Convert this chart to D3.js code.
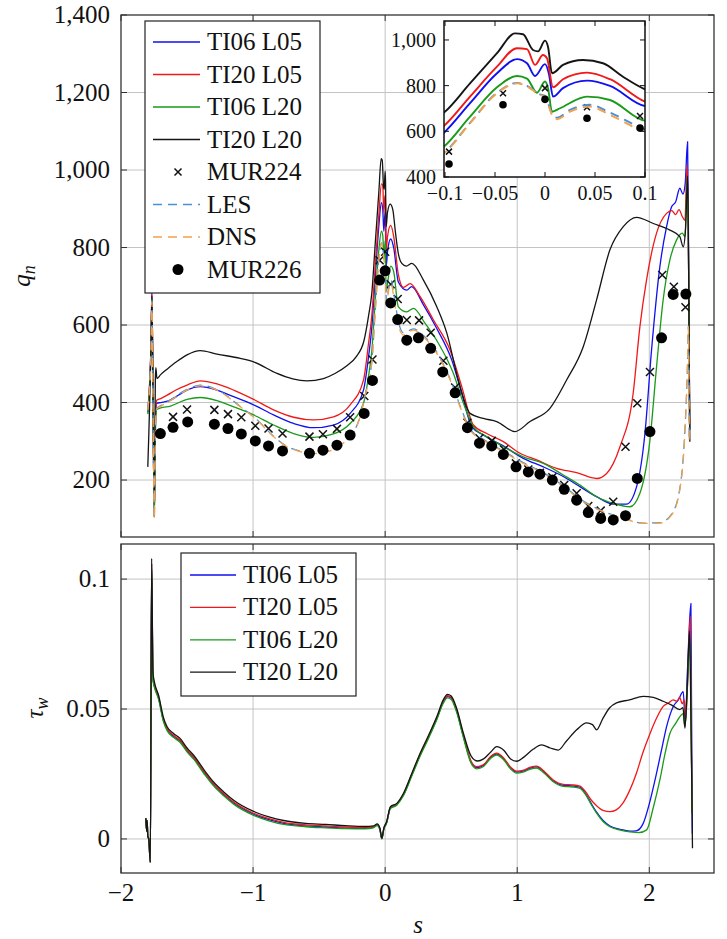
<!DOCTYPE html>
<html>
<head>
<meta charset="utf-8">
<script src="https://cdn.jsdelivr.net/npm/d3@7"></script>
<style>
body { margin: 0; background: #fff; }
</style>
</head>
<body>
<script>
// ---- heat flux q_n, [s, q] ----
const qTI06L05 = [[-1.797,375],[-1.772,560],[-1.766,690],[-1.757,380],[-1.748,105],[-1.738,360],[-1.730,398],[-1.70,400],[-1.626,406],[-1.56,420],[-1.5,432],[-1.4,441],[-1.273,432],[-1.147,415],[-0.996,394],[-0.845,368],[-0.693,346],[-0.542,335],[-0.391,342],[-0.265,372],[-0.164,432],[-0.125,520],[-0.101,594],[-0.075,723],[-0.048,854],[-0.028,916],[-0.018,898],[-0.010,842],[0.0,894],[0.004,850],[0.008,752],[0.018,789],[0.042,822],[0.065,799],[0.1,711],[0.164,690],[0.2,699],[0.29,652],[0.391,591],[0.504,510],[0.58,424],[0.656,338],[0.744,316],[0.895,288],[1.046,256],[1.198,234],[1.349,209],[1.475,183],[1.601,157],[1.727,138],[1.828,138],[1.904,183],[1.967,320],[2.017,535],[2.08,750],[2.131,854],[2.169,905],[2.2,918],[2.231,953],[2.255,938],[2.272,965],[2.29,1073],[2.298,760],[2.306,330]];
const qTI20L05 = [[-1.797,380],[-1.772,560],[-1.766,680],[-1.757,380],[-1.748,105],[-1.738,370],[-1.730,406],[-1.70,410],[-1.651,419],[-1.58,433],[-1.5,445],[-1.4,456],[-1.273,448],[-1.147,432],[-0.996,408],[-0.845,381],[-0.693,362],[-0.542,355],[-0.391,363],[-0.265,394],[-0.164,458],[-0.125,555],[-0.101,624],[-0.075,752],[-0.048,883],[-0.028,964],[-0.018,960],[-0.010,891],[-0.002,934],[0.002,920],[0.008,793],[0.018,828],[0.042,857],[0.065,828],[0.1,730],[0.139,697],[0.189,707],[0.265,673],[0.366,613],[0.492,535],[0.58,441],[0.668,342],[0.769,320],[0.895,299],[1.021,269],[1.147,252],[1.298,230],[1.45,219],[1.601,204],[1.677,217],[1.778,286],[1.878,424],[1.929,596],[1.979,716],[2.055,837],[2.131,888],[2.17,895],[2.2,885],[2.225,898],[2.25,880],[2.27,870],[2.286,1013],[2.298,740],[2.306,330]];
const qTI06L20 = [[-1.797,370],[-1.772,550],[-1.766,670],[-1.757,370],[-1.748,105],[-1.738,350],[-1.730,382],[-1.70,386],[-1.626,391],[-1.5,408],[-1.4,413],[-1.273,405],[-1.147,389],[-0.996,368],[-0.845,342],[-0.693,320],[-0.542,310],[-0.391,319],[-0.265,346],[-0.164,398],[-0.125,470],[-0.101,533],[-0.075,664],[-0.048,793],[-0.028,842],[-0.018,831],[-0.008,769],[0.0,818],[0.003,790],[0.007,686],[0.015,701],[0.042,752],[0.065,737],[0.1,647],[0.164,634],[0.214,643],[0.303,604],[0.403,553],[0.517,475],[0.593,398],[0.668,338],[0.769,312],[0.895,286],[1.046,260],[1.198,243],[1.349,213],[1.475,187],[1.601,157],[1.727,140],[1.853,131],[1.929,166],[2.005,303],[2.055,492],[2.105,665],[2.156,768],[2.206,819],[2.25,837],[2.27,828],[2.288,983],[2.298,740],[2.306,330]];
const qTI20L20 = [[-1.797,234],[-1.772,560],[-1.766,675],[-1.757,400],[-1.748,160],[-1.740,460],[-1.736,490],[-1.728,462],[-1.70,472],[-1.651,486],[-1.58,505],[-1.5,523],[-1.4,534],[-1.273,525],[-1.097,514],[-0.996,505],[-0.819,475],[-0.70,461],[-0.592,456],[-0.467,462],[-0.38,475],[-0.29,495],[-0.22,518],[-0.16,560],[-0.125,625],[-0.101,682],[-0.075,810],[-0.048,942],[-0.030,1029],[-0.022,1025],[-0.012,956],[-0.007,950],[0.0,997],[0.003,970],[0.007,854],[0.01,860],[0.018,891],[0.038,912],[0.058,898],[0.078,839],[0.1,784],[0.126,759],[0.16,752],[0.202,759],[0.29,716],[0.391,647],[0.467,579],[0.554,458],[0.643,372],[0.744,359],[0.845,351],[0.983,325],[1.097,351],[1.248,385],[1.374,458],[1.5,544],[1.601,665],[1.702,794],[1.803,854],[1.904,878],[2.03,862],[2.156,845],[2.231,828],[2.257,802],[2.275,850],[2.29,985],[2.298,740],[2.307,299]];
const qLES = [[-1.797,382],[-1.772,545],[-1.766,665],[-1.757,372],[-1.748,102],[-1.738,352],[-1.730,385],[-1.70,392],[-1.626,407],[-1.5,434],[-1.4,445],[-1.273,433],[-1.097,390],[-0.971,356],[-0.845,313],[-0.744,287],[-0.668,277],[-0.56,269],[-0.45,273],[-0.33,293],[-0.25,319],[-0.2,353],[-0.15,421],[-0.101,506],[-0.075,637],[-0.048,769],[-0.028,812],[-0.018,799],[-0.005,762],[0.0,755],[0.007,678],[0.012,660],[0.025,694],[0.045,716],[0.065,682],[0.1,609],[0.139,580],[0.214,590],[0.29,573],[0.391,530],[0.492,461],[0.567,392],[0.643,332],[0.744,305],[0.895,275],[1.046,245],[1.198,219],[1.349,185],[1.5,146],[1.652,119],[1.803,102],[1.954,89],[2.08,90],[2.169,112],[2.231,178],[2.269,325],[2.289,496],[2.296,598],[2.302,300]];
const qDNS = [[-1.797,380],[-1.772,540],[-1.766,660],[-1.757,370],[-1.748,100],[-1.738,350],[-1.730,383],[-1.70,390],[-1.626,405],[-1.5,432],[-1.4,443],[-1.273,432],[-1.097,389],[-0.971,355],[-0.845,312],[-0.744,286],[-0.668,276],[-0.56,268],[-0.45,272],[-0.33,292],[-0.25,318],[-0.2,352],[-0.15,420],[-0.101,504],[-0.075,635],[-0.048,767],[-0.028,810],[-0.018,797],[-0.005,759],[0.0,752],[0.007,672],[0.012,653],[0.025,686],[0.045,708],[0.065,672],[0.1,599],[0.139,574],[0.214,587],[0.29,570],[0.391,527],[0.492,458],[0.567,389],[0.643,329],[0.744,303],[0.895,273],[1.046,243],[1.198,217],[1.349,183],[1.5,144],[1.652,118],[1.803,101],[1.954,88],[2.08,89],[2.169,110],[2.231,174],[2.269,320],[2.289,492],[2.296,596],[2.302,300]];
const mur224 = [[-1.606,363],[-1.50,382],[-1.293,381],[-1.19,370],[-1.089,362],[-0.983,340],[-0.883,333],[-0.777,320],[-0.573,312],[-0.471,318],[-0.365,332],[-0.265,362],[-0.158,417],[-0.096,511],[-0.042,767],[0.0,789],[0.042,705],[0.095,667],[0.164,613],[0.257,612],[0.345,580],[0.441,508],[0.53,439],[0.623,348],[0.714,308],[0.807,301],[0.9,279],[0.99,243],[1.084,227],[1.172,219],[1.266,207],[1.356,187],[1.45,166],[1.538,133],[1.632,121],[1.727,144],[1.82,286],[1.909,398],[2.005,479],[2.098,729],[2.186,699],[2.274,646]];
const mur226 = [[-1.702,320],[-1.606,336],[-1.495,350],[-1.293,344],[-1.19,333],[-1.089,319],[-0.983,301],[-0.883,288],[-0.777,275],[-0.573,269],[-0.471,277],[-0.365,290],[-0.265,316],[-0.159,372],[-0.096,457],[-0.042,716],[0.0,740],[0.042,657],[0.095,614],[0.164,561],[0.252,567],[0.345,540],[0.436,479],[0.53,425],[0.623,335],[0.714,295],[0.807,288],[0.895,266],[0.991,234],[1.084,221],[1.172,215],[1.266,200],[1.356,176],[1.45,148],[1.538,116],[1.632,101],[1.727,97],[1.82,108],[1.909,204],[2.005,325],[2.093,567],[2.181,679],[2.277,680]];

// ---- wall shear tau_w, [s, tau] ----
const tauTI06L05 = [[-1.812,0.008],[-1.806,0.003],[-1.802,0.007],[-1.797,0.001],[-1.79,0.0],[-1.778,-0.009],[-1.768,0.106],[-1.758,0.0615],[-1.745,0.0585],[-1.715,0.0541],[-1.68,0.0458],[-1.651,0.0421],[-1.6,0.0394],[-1.551,0.0375],[-1.5,0.0339],[-1.45,0.0311],[-1.37,0.0254],[-1.299,0.0208],[-1.22,0.0169],[-1.147,0.0138],[-0.996,0.0095],[-0.88,0.0074],[-0.769,0.0060],[-0.6,0.0050],[-0.45,0.0046],[-0.3,0.0042],[-0.15,0.0041],[-0.09,0.0045],[-0.06,0.0053],[-0.04,0.0038],[-0.025,0.0001],[-0.01,0.0039],[0.01,0.0061],[0.04,0.0120],[0.088,0.0133],[0.139,0.0170],[0.2,0.0244],[0.265,0.0323],[0.33,0.0393],[0.391,0.0463],[0.44,0.0527],[0.471,0.0548],[0.5,0.0542],[0.54,0.0495],[0.593,0.0394],[0.65,0.0297],[0.693,0.0275],[0.745,0.0283],[0.8,0.0315],[0.845,0.0327],[0.9,0.0307],[0.95,0.0273],[0.996,0.0257],[1.05,0.0262],[1.1,0.0273],[1.147,0.0277],[1.2,0.0259],[1.27,0.0225],[1.349,0.0206],[1.42,0.0204],[1.475,0.0199],[1.52,0.0173],[1.56,0.0137],[1.601,0.0103],[1.65,0.0071],[1.702,0.0050],[1.78,0.0037],[1.853,0.0030],[1.9,0.0031],[1.954,0.0060],[2.0,0.0135],[2.055,0.0253],[2.1,0.0360],[2.131,0.0432],[2.181,0.0509],[2.22,0.0535],[2.257,0.0567],[2.272,0.0450],[2.29,0.066],[2.315,0.0906],[2.320,0.050],[2.326,0.002]];
const tauTI20L05 = [[-1.812,0.008],[-1.806,0.003],[-1.802,0.007],[-1.797,0.001],[-1.79,0.0],[-1.778,-0.009],[-1.768,0.106],[-1.758,0.062],[-1.745,0.059],[-1.715,0.0545],[-1.68,0.0462],[-1.651,0.0425],[-1.6,0.0398],[-1.551,0.0379],[-1.5,0.0343],[-1.45,0.0315],[-1.37,0.0258],[-1.299,0.0212],[-1.22,0.0173],[-1.147,0.0142],[-0.996,0.0099],[-0.88,0.0078],[-0.769,0.0064],[-0.6,0.0054],[-0.45,0.0050],[-0.3,0.0046],[-0.15,0.0044],[-0.09,0.0047],[-0.06,0.0055],[-0.04,0.0040],[-0.025,0.0002],[-0.01,0.0040],[0.01,0.0062],[0.04,0.0121],[0.088,0.0134],[0.139,0.0172],[0.2,0.0246],[0.265,0.0326],[0.33,0.0396],[0.391,0.0466],[0.44,0.0530],[0.471,0.0551],[0.5,0.0545],[0.54,0.0498],[0.593,0.0398],[0.65,0.0300],[0.693,0.0278],[0.745,0.0286],[0.8,0.0318],[0.845,0.0330],[0.9,0.0310],[0.95,0.0276],[0.996,0.0261],[1.05,0.0265],[1.1,0.0276],[1.147,0.0280],[1.2,0.0262],[1.27,0.0228],[1.349,0.0210],[1.42,0.0208],[1.475,0.0203],[1.52,0.0180],[1.56,0.0150],[1.601,0.0128],[1.65,0.0110],[1.702,0.0105],[1.75,0.0112],[1.803,0.0140],[1.85,0.0185],[1.904,0.0255],[1.95,0.0330],[2.005,0.0405],[2.06,0.0470],[2.105,0.0510],[2.15,0.0525],[2.181,0.0535],[2.21,0.0530],[2.23,0.0545],[2.25,0.0520],[2.265,0.0535],[2.275,0.0455],[2.29,0.060],[2.31,0.0855],[2.316,0.050],[2.324,0.010]];
const tauTI06L20 = [[-1.812,0.008],[-1.806,0.003],[-1.802,0.007],[-1.797,0.001],[-1.79,0.0],[-1.778,-0.009],[-1.768,0.104],[-1.758,0.061],[-1.745,0.058],[-1.715,0.0537],[-1.68,0.0454],[-1.651,0.0417],[-1.6,0.0390],[-1.551,0.0371],[-1.5,0.0335],[-1.45,0.0307],[-1.37,0.0250],[-1.299,0.0204],[-1.22,0.0165],[-1.147,0.0134],[-0.996,0.0091],[-0.88,0.0070],[-0.769,0.0056],[-0.6,0.0047],[-0.45,0.0043],[-0.3,0.0040],[-0.15,0.0039],[-0.09,0.0043],[-0.06,0.0051],[-0.04,0.0036],[-0.025,0.0000],[-0.01,0.0037],[0.01,0.0059],[0.04,0.0117],[0.088,0.0130],[0.139,0.0167],[0.2,0.0240],[0.265,0.0319],[0.33,0.0389],[0.391,0.0459],[0.44,0.0522],[0.471,0.0543],[0.5,0.0537],[0.54,0.0490],[0.593,0.0389],[0.65,0.0292],[0.693,0.0270],[0.745,0.0279],[0.8,0.0311],[0.845,0.0323],[0.9,0.0303],[0.95,0.0269],[0.996,0.0253],[1.05,0.0258],[1.1,0.0269],[1.147,0.0273],[1.2,0.0255],[1.27,0.0221],[1.349,0.0202],[1.42,0.0200],[1.475,0.0195],[1.52,0.0169],[1.56,0.0133],[1.601,0.0099],[1.65,0.0067],[1.702,0.0047],[1.78,0.0034],[1.853,0.0027],[1.92,0.0024],[1.98,0.0035],[2.03,0.0120],[2.08,0.0227],[2.12,0.0330],[2.156,0.0406],[2.2,0.0445],[2.231,0.0470],[2.255,0.0482],[2.27,0.0433],[2.29,0.060],[2.308,0.078],[2.316,0.050],[2.324,0.010]];
const tauTI20L20 = [[-1.812,0.008],[-1.806,0.003],[-1.802,0.007],[-1.797,0.001],[-1.79,0.0],[-1.778,-0.009],[-1.768,0.108],[-1.758,0.064],[-1.745,0.060],[-1.715,0.0552],[-1.68,0.047],[-1.651,0.0432],[-1.6,0.0405],[-1.551,0.0386],[-1.5,0.035],[-1.45,0.0322],[-1.37,0.0265],[-1.299,0.0219],[-1.22,0.018],[-1.147,0.0149],[-0.996,0.0106],[-0.88,0.0085],[-0.769,0.0071],[-0.6,0.0060],[-0.45,0.0056],[-0.3,0.0051],[-0.15,0.0048],[-0.09,0.0050],[-0.06,0.0058],[-0.04,0.0042],[-0.025,0.0003],[-0.01,0.0042],[0.01,0.0065],[0.04,0.0124],[0.088,0.0137],[0.139,0.0176],[0.2,0.025],[0.265,0.033],[0.33,0.040],[0.391,0.047],[0.44,0.0535],[0.471,0.0556],[0.5,0.055],[0.54,0.0505],[0.593,0.0406],[0.65,0.0320],[0.7,0.0300],[0.745,0.0308],[0.8,0.0335],[0.845,0.0355],[0.9,0.0340],[0.95,0.0308],[0.996,0.0299],[1.05,0.0315],[1.12,0.0345],[1.185,0.0362],[1.25,0.0350],[1.311,0.0342],[1.37,0.0375],[1.45,0.0420],[1.526,0.0447],[1.57,0.0440],[1.601,0.0420],[1.65,0.0465],[1.70,0.0505],[1.752,0.0524],[1.85,0.0535],[1.954,0.0549],[2.03,0.0545],[2.105,0.053],[2.17,0.0515],[2.231,0.0498],[2.255,0.0505],[2.27,0.0426],[2.285,0.0560],[2.305,0.080],[2.312,0.060],[2.322,0.020],[2.327,-0.0036]];

const sTicks = [-2, -1, 0, 1, 2];
const qTicks = [200, 400, 600, 800, 1000, 1200, 1400];
const tauTicks = [0, 0.05, 0.1];
const insetSTicks = [-0.1, -0.05, 0, 0.05, 0.1];
const insetQTicks = [400, 600, 800, 1000];

const names = ["TI06 L05", "TI20 L05", "TI06 L20", "TI20 L20"];
const colors = ["#1010f0", "#f01818", "#1a9a1a", "#151515"];
const lesColor = "#4a90d6", dnsColor = "#f3a14a";

// pick the first serif face that is really installed
function pickSerif() {
  const cands = ["Liberation Serif", "Tinos", "Noto Serif", "DejaVu Serif", "FreeSerif",
                 "Nimbus Roman", "Nimbus Roman No9 L", "Times New Roman", "Times", "Georgia"];
  const ctx = document.createElement("canvas").getContext("2d");
  const probe = "TI06 L05 MUR224 1,400 abcdefghij";
  ctx.font = "40px monospace"; const wm = ctx.measureText(probe).width;
  ctx.font = "40px sans-serif"; const ws = ctx.measureText(probe).width;
  for (const c of cands) {
    ctx.font = `40px "${c}", monospace`; const a = ctx.measureText(probe).width;
    ctx.font = `40px "${c}", sans-serif`; const b = ctx.measureText(probe).width;
    if (a !== wm && b !== ws) return `"${c}", serif`;
  }
  return "serif";
}
const serif = pickSerif();

const svg = d3.select("body").append("svg").attr("width", 727).attr("height", 939)
  .attr("font-family", serif);

const x = d3.scaleLinear().domain([-2, 2.49]).range([121, 714]);
const yq = d3.scaleLinear().domain([53, 1400]).range([537, 15]);
const yt = d3.scaleLinear().domain([-0.0131, 0.1135]).range([873, 544]);
const xi = d3.scaleLinear().domain([-0.101, 0.1]).range([444, 645]);
const yi = d3.scaleLinear().domain([400, 1083]).range([177, 21]);

function clip(id, xs, ys) {
  svg.append("clipPath").attr("id", id).append("rect")
    .attr("x", xs.range()[0]).attr("y", ys.range()[1])
    .attr("width", xs.range()[1] - xs.range()[0]).attr("height", ys.range()[0] - ys.range()[1]);
}

function grid(xs, ys, xt, yt_) {
  const g = svg.append("g");
  g.selectAll(".gx").data(xt.filter(d => xs(d) > xs.range()[0] + 1)).enter().append("line")
    .attr("x1", d => xs(d)).attr("x2", d => xs(d)).attr("y1", ys.range()[0]).attr("y2", ys.range()[1])
    .attr("stroke", "#c4c4c4").attr("stroke-width", 1);
  g.selectAll(".gy").data(yt_.filter(d => ys(d) > ys.range()[1] + 1)).enter().append("line")
    .attr("y1", d => ys(d)).attr("y2", d => ys(d)).attr("x1", xs.range()[0]).attr("x2", xs.range()[1])
    .attr("stroke", "#c4c4c4").attr("stroke-width", 1);
}

function frame(xs, ys, xt, yt_, len, col, w) {
  const g = svg.append("g");
  const [xa, xb] = xs.range(), [ya, yb] = ys.range();
  xt.forEach(d => {
    g.append("line").attr("x1", xs(d)).attr("x2", xs(d)).attr("y1", ya).attr("y2", ya - len).attr("stroke", col);
    g.append("line").attr("x1", xs(d)).attr("x2", xs(d)).attr("y1", yb).attr("y2", yb + len).attr("stroke", col);
  });
  yt_.forEach(d => {
    g.append("line").attr("y1", ys(d)).attr("y2", ys(d)).attr("x1", xa).attr("x2", xa + len).attr("stroke", col);
    g.append("line").attr("y1", ys(d)).attr("y2", ys(d)).attr("x1", xb).attr("x2", xb - len).attr("stroke", col);
  });
  g.append("rect").attr("x", xa).attr("y", yb).attr("width", xb - xa).attr("height", ya - yb)
    .attr("fill", "none").attr("stroke", col).attr("stroke-width", w);
}

function drawLine(g, data, xs, ys, color, width, dash) {
  const line = d3.line().x(d => xs(d[0])).y(d => ys(d[1])).curve(d3.curveMonotoneX);
  g.append("path").datum(data).attr("d", line).attr("fill", "none")
    .attr("stroke", color).attr("stroke-width", width)
    .attr("stroke-dasharray", dash || null).attr("stroke-linejoin", "round");
}

function crosses(g, data, xs, ys, r, w) {
  g.selectAll(null).data(data).enter().append("path")
    .attr("d", d => { const cx = xs(d[0]), cy = ys(d[1]);
      return `M${cx - r},${cy - r}L${cx + r},${cy + r}M${cx - r},${cy + r}L${cx + r},${cy - r}`; })
    .attr("stroke", "#111").attr("stroke-width", w);
}

function dots(g, data, xs, ys, r) {
  g.selectAll(null).data(data).enter().append("circle")
    .attr("cx", d => xs(d[0])).attr("cy", d => ys(d[1])).attr("r", r).attr("fill", "#000");
}

function qSeries(g, xs, ys, lw, mr, dr) {
  [qTI06L05, qTI20L05, qTI06L20, qTI20L20].forEach((d, i) => drawLine(g, d, xs, ys, colors[i], lw));
  crosses(g, mur224, xs, ys, mr, 1.5);
  drawLine(g, qLES, xs, ys, lesColor, lw, "9,6");
  drawLine(g, qDNS, xs, ys, dnsColor, lw, "9,6");
  dots(g, mur226, xs, ys, dr);
}

function label(g, txt, x0, y0, size, anchor) {
  g.append("text").attr("x", x0).attr("y", y0).attr("text-anchor", anchor)
    .attr("font-size", size).attr("font-family", serif).attr("fill", "#111").text(txt);
}

// ---------- top panel ----------
clip("clipTop", x, yq);
grid(x, yq, sTicks, qTicks);
qSeries(svg.append("g").attr("clip-path", "url(#clipTop)"), x, yq, 1.3, 4, 5.5);
frame(x, yq, sTicks, qTicks, 6, "#333", 1.3);

const gqt = svg.append("g");
qTicks.forEach(d => label(gqt, d3.format(",")(d), 110, yq(d) + 8, 25, "end"));

// legend top
const legT = svg.append("g");
legT.append("rect").attr("x", 145).attr("y", 21).attr("width", 175).attr("height", 272)
  .attr("fill", "#fff").attr("stroke", "#222").attr("stroke-width", 1.2);
const legItems = names.map((n, i) => ({ n, type: "line", c: colors[i] }))
  .concat([{ n: "MUR224", type: "cross" }, { n: "LES", type: "dash", c: lesColor },
           { n: "DNS", type: "dash", c: dnsColor }, { n: "MUR226", type: "dot" }]);
legItems.forEach((it, i) => {
  const cy = 42 + i * 32.5;
  if (it.type === "line" || it.type === "dash") {
    legT.append("line").attr("x1", 153).attr("x2", 200).attr("y1", cy).attr("y2", cy)
      .attr("stroke", it.c).attr("stroke-width", 1.3).attr("stroke-dasharray", it.type === "dash" ? "9,6" : null);
  } else if (it.type === "cross") {
    crosses(legT, [[178, cy]], d => d, d => d, 3.5, 1.5);
  } else {
    dots(legT, [[178, cy]], d => d, d => d, 5.5);
  }
  label(legT, it.n, 207, cy + 8, 25, "start");
});

// inset
clip("clipInset", xi, yi);
svg.append("rect").attr("x", 444).attr("y", 21).attr("width", 201).attr("height", 156).attr("fill", "#fff");
qSeries(svg.append("g").attr("clip-path", "url(#clipInset)"), xi, yi, 1.9, 3, 3.8);
frame(xi, yi, insetSTicks, insetQTicks, 5, "#111", 1.5);
const gin = svg.append("g");
insetQTicks.forEach(d => label(gin, d3.format(",")(d), 436, yi(d) + 7, 20, "end"));
insetSTicks.forEach(d => label(gin, d3.format("")(d), xi(d), 200, 20, "middle"));

// ---------- bottom panel ----------
clip("clipBot", x, yt);
grid(x, yt, sTicks, tauTicks);
const gb = svg.append("g").attr("clip-path", "url(#clipBot)");
[tauTI06L05, tauTI20L05, tauTI06L20, tauTI20L20].forEach((d, i) => drawLine(gb, d, x, yt, colors[i], 1.3));
frame(x, yt, sTicks, tauTicks, 6, "#333", 1.3);

const gbt = svg.append("g");
tauTicks.forEach(d => label(gbt, d3.format("")(d), 110, yt(d) + 8, 25, "end"));
sTicks.forEach(d => label(gbt, d3.format("")(d), x(d), 901, 25, "middle"));

const legB = svg.append("g");
legB.append("rect").attr("x", 181).attr("y", 553).attr("width", 175).attr("height", 143)
  .attr("fill", "#fff").attr("stroke", "#222").attr("stroke-width", 1.2);
names.forEach((n, i) => {
  const cy = 575 + i * 32.4;
  legB.append("line").attr("x1", 190).attr("x2", 236).attr("y1", cy).attr("y2", cy)
    .attr("stroke", colors[i]).attr("stroke-width", 1.3);
  label(legB, n, 243, cy + 8, 25, "start");
});

// axis labels
const ql = svg.append("text").attr("transform", "translate(30,276) rotate(-90)")
  .attr("text-anchor", "middle").attr("font-size", 25).attr("font-style", "italic")
  .attr("font-family", serif).attr("fill", "#111");
ql.append("tspan").text("q");
ql.append("tspan").attr("font-size", 18).attr("dy", 5).text("n");
const tl = svg.append("text").attr("transform", "translate(43,708) rotate(-90)")
  .attr("text-anchor", "middle").attr("font-size", 25).attr("font-style", "italic")
  .attr("font-family", serif).attr("fill", "#111");
tl.append("tspan").text("τ");
tl.append("tspan").attr("font-size", 18).attr("dy", 5).text("w");
svg.append("text").attr("x", 418).attr("y", 933).attr("text-anchor", "middle")
  .attr("font-size", 25).attr("font-style", "italic").attr("font-family", serif)
  .attr("fill", "#111").text("s");
</script>
</body>
</html>
